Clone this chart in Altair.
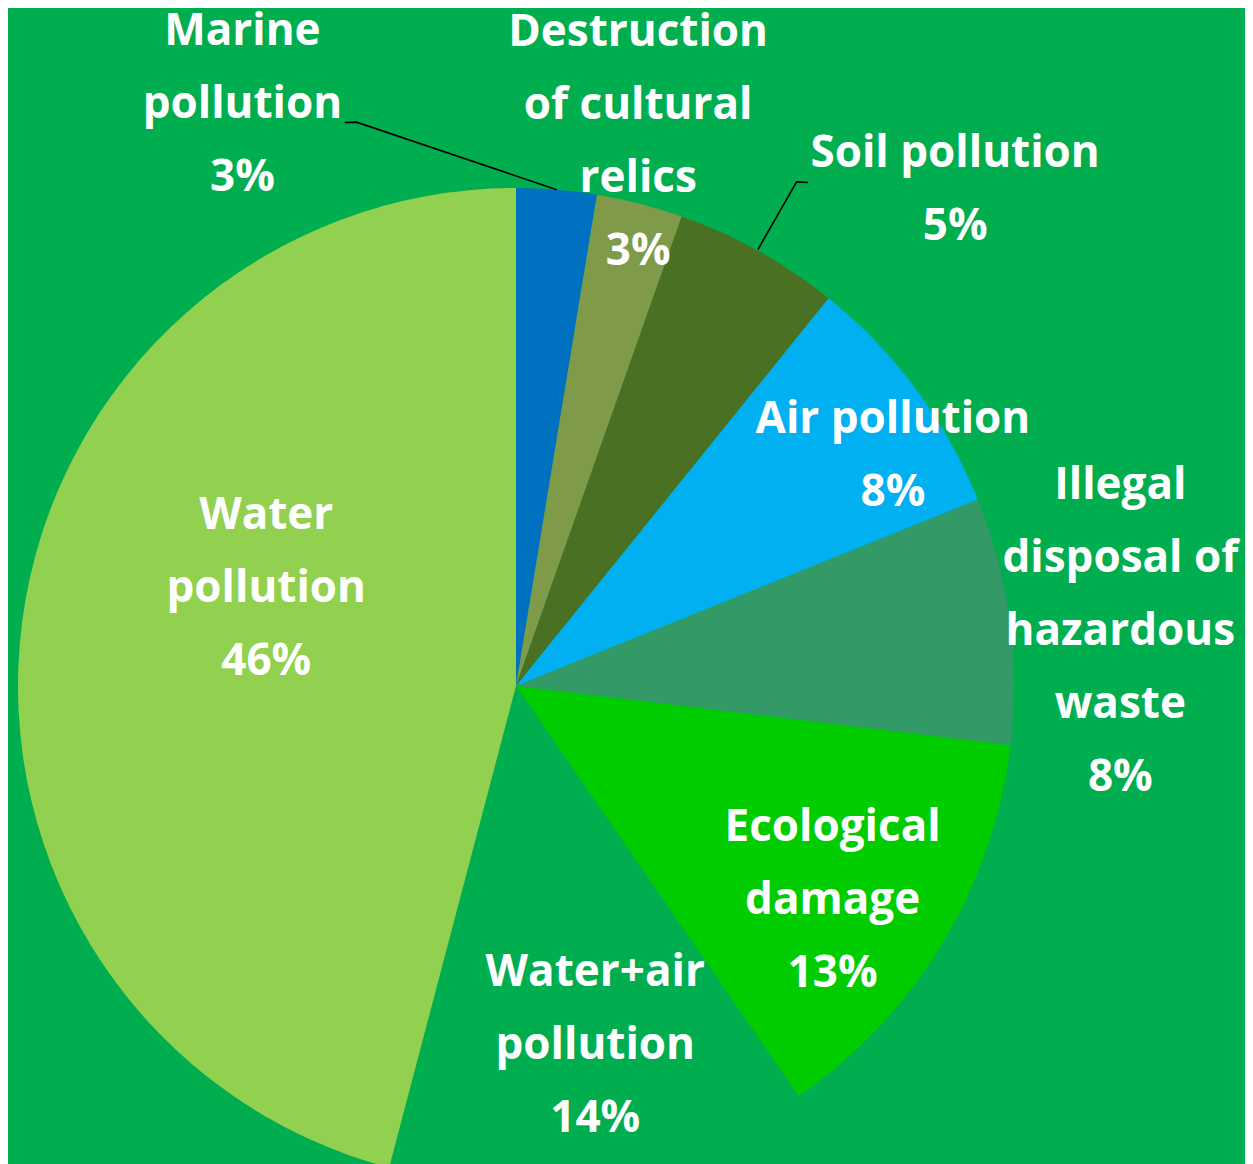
import altair as alt
import pandas as pd

# ---- data ----
categories = [
    "Marine pollution",
    "Destruction of cultural relics",
    "Soil pollution",
    "Air pollution",
    "Illegal disposal of hazardous waste",
    "Ecological damage",
    "Water+air pollution",
    "Water pollution",
]
shares = [2.6, 2.8, 5.4, 8.1, 8.0, 13.5, 13.7, 45.9]
pct_labels = ["3%", "3%", "5%", "8%", "8%", "13%", "14%", "46%"]
label_names = [
    "Marine\npollution",
    "Destruction\nof cultural\nrelics",
    "Soil pollution",
    "Air pollution",
    "Illegal\ndisposal of\nhazardous\nwaste",
    "Ecological\ndamage",
    "Water+air\npollution",
    "Water\npollution",
]

# ---- styling / layout ----
colors = ["#0070C0", "#7F9A48", "#4A7023", "#00B0F0", "#339966", "#00CC00", "#00AE50", "#92D050"]
BG = "#00AE50"
W, H = 1237, 1156
CX, CY = 508, 678
R = 498
LINE_H = 73
# label placement (polar: degrees clockwise from 12 o'clock, pixel distance from centre)
label_angle = [334.9, 12.6, 41.4, 58.3, 84.6, 123.8, 167.5, 291.8]
label_dist = [645, 560, 664, 443, 607, 381, 366, 269]
# leader lines (polar points)
leader_id = ["m", "m", "m", "s", "s", "s"]
leader_seq = [0, 1, 2, 0, 1, 2]
leader_angle = [343.1, 344.2, 4.7, 30.1, 29.1, 29.0]
leader_dist = [589, 586, 498, 582, 577, 499]

df = pd.DataFrame({
    "category": categories,
    "share": shares,
    "idx": list(range(len(categories))),
    "label": [n + "\n" + p for n, p in zip(label_names, pct_labels)],
    "la": label_angle,
    "lr": label_dist,
})
lead = pd.DataFrame({"leader": leader_id, "seq": leader_seq, "a": leader_angle, "r": leader_dist})

xs = alt.Scale(domain=[-CX, W - CX], range=[0, W], nice=False, zero=False)
ys = alt.Scale(domain=[-CY, H - CY], range=[0, H], nice=False, zero=False)

pie = alt.Chart(df).mark_arc(radius=R, stroke=None).encode(
    theta=alt.Theta("share:Q", stack=True),
    color=alt.Color("category:N", scale=alt.Scale(domain=categories, range=colors), legend=None),
    order=alt.Order("idx:Q"),
    x=alt.value(CX),
    y=alt.value(CY),
)

leaders = alt.Chart(lead).transform_calculate(
    px="datum.r * sin(datum.a * PI / 180)",
    py="-datum.r * cos(datum.a * PI / 180)",
).mark_line(color="black", strokeWidth=1.6).encode(
    x=alt.X("px:Q", scale=xs, axis=None),
    y=alt.Y("py:Q", scale=ys, axis=None),
    detail="leader:N",
    order="seq:Q",
)

labels = alt.Chart(df).transform_calculate(
    nl="length(split(datum.label, '\\n'))",
).transform_calculate(
    px="datum.lr * sin(datum.la * PI / 180)",
    py=f"-datum.lr * cos(datum.la * PI / 180) - (datum.nl - 1) / 2 * {LINE_H}",
).mark_text(
    font="Open Sans", fontWeight="bold", fontSize=44, color="white",
    lineBreak="\n", lineHeight=LINE_H, align="center", baseline="middle", dy=3,
).encode(
    x=alt.X("px:Q", scale=xs, axis=None),
    y=alt.Y("py:Q", scale=ys, axis=None),
    text="label:N",
)

chart = alt.layer(pie, leaders, labels).properties(
    width=W, height=H, padding=0, autosize="none", background=BG
).configure_view(stroke=None)

chart.save("out.html", embed_options={"renderer": "svg", "actions": False})
